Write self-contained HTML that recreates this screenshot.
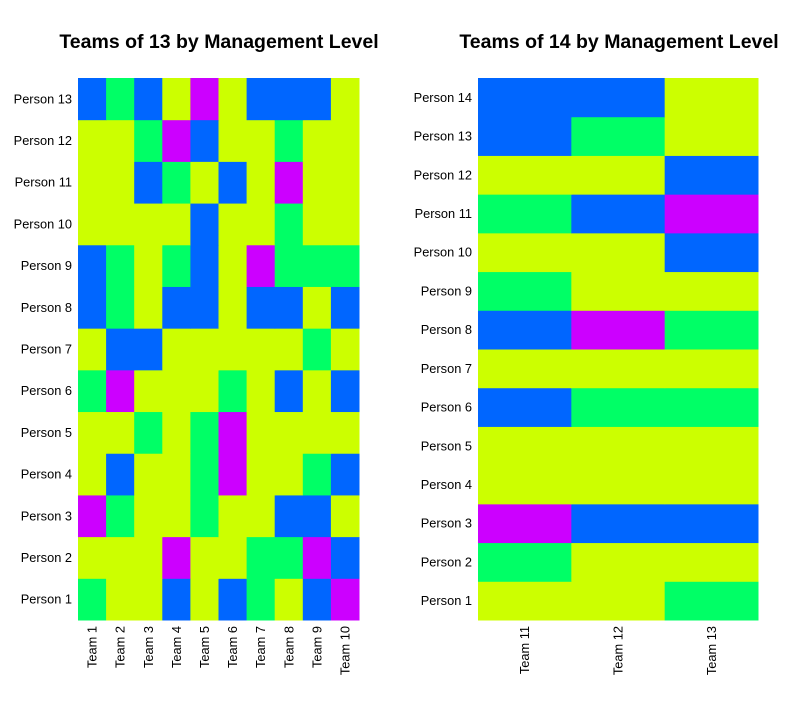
<!DOCTYPE html>
<html><head><meta charset="utf-8"><style>
body{margin:0;background:#fff;font-family:"Liberation Sans",Arial,sans-serif}
svg text{font-family:"Liberation Sans",Arial,sans-serif}
</style></head><body>
<svg id="c" width="800" height="719"></svg>
<script>
const colors=["#CCFF00","#00FF66","#0066FF","#CC00FF"];
// level codes: 0=yellow,1=green,2=blue,3=purple; rows listed Person 1 .. Person N
const leftTeams=["Team 1","Team 2","Team 3","Team 4","Team 5","Team 6","Team 7","Team 8","Team 9","Team 10"];
const leftPersons=["Person 1","Person 2","Person 3","Person 4","Person 5","Person 6","Person 7","Person 8","Person 9","Person 10","Person 11","Person 12","Person 13"];
const leftValues=[
"1002021023","0003001132","3100100220","0200130012","0010130000","1300010202","0220000010","2102202202","2101203111","0000200100","0021020300","0013200100","2120302220"];
const rightTeams=["Team 11","Team 12","Team 13"];
const rightPersons=["Person 1","Person 2","Person 3","Person 4","Person 5","Person 6","Person 7","Person 8","Person 9","Person 10","Person 11","Person 12","Person 13","Person 14"];
const rightValues=["001","100","322","000","000","211","000","231","100","002","123","002","210","220"];
const svg=document.getElementById('c');const NS="http://www.w3.org/2000/svg";
function mk(t,a,txt){const e=document.createElementNS(NS,t);for(const k in a)e.setAttribute(k,a[k]);if(txt!==undefined)e.textContent=txt;svg.appendChild(e);return e;}
function draw(x0,x1,y0,y1,teams,persons,vals,title,tx,key){
 const cw=(x1-x0)/teams.length,rh=(y1-y0)/persons.length;
 const t=mk('text',{x:tx,y:48,'text-anchor':'middle','font-size':'19.5','font-weight':'bold',fill:'#000'},title);
 
 
 persons.forEach((p,i)=>{const y=y1-(i+1)*rh;
  teams.forEach((tm,j)=>{const r=mk('rect',{x:x0+j*cw,y:y,width:cw+0.5,height:rh+0.5,fill:colors[+vals[i][j]]});
   
   });
  const l=mk('text',{x:x0-6,y:y+rh/2+4.5,'text-anchor':'end','font-size':'12.8',fill:'#000'},p);
  
  
 });
 teams.forEach((tm,j)=>{const cx=x0+(j+0.5)*cw+4.5;
  const l=mk('text',{x:cx,y:y1+6,'text-anchor':'end','font-size':'12.8',fill:'#000',transform:`rotate(-90 ${cx} ${y1+6})`},tm);
  
  });
}
draw(78,359,78,620,leftTeams,leftPersons,leftValues,"Teams of 13 by Management Level",219,'left');
draw(478,758,78,620,rightTeams,rightPersons,rightValues,"Teams of 14 by Management Level",619,'right');
</script>
</body></html>
